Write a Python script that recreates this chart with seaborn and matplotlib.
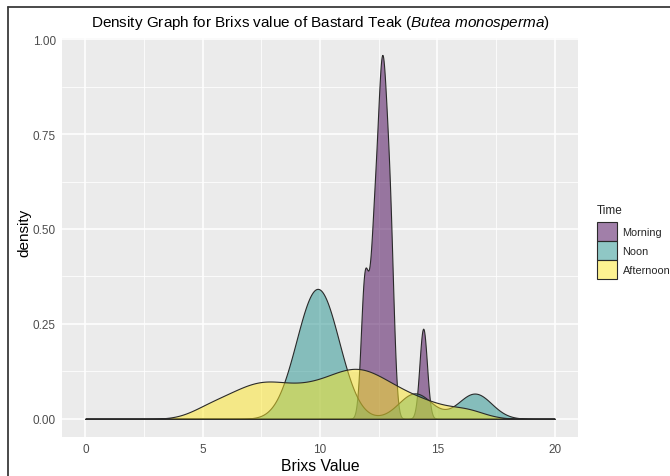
import numpy as np
import pandas as pd
import matplotlib
matplotlib.use("Agg")
import matplotlib.pyplot as plt
from matplotlib.lines import Line2D
import seaborn as sns

# Brix readings (°Bx) of Bastard Teak flowers at each sampling time
times = ["Morning", "Noon", "Afternoon"]
morning_brix = [11.9, 11.9, 11.9,
                12.2, 12.3, 12.3, 12.4, 12.5, 12.6, 12.6, 12.6,
                12.7, 12.7, 12.7, 12.8, 12.9, 13.0, 13.0, 13.0,
                14.4, 14.4]
noon_brix = [8.9, 9.2, 9.4, 9.6, 9.7, 9.8, 9.9, 10.0, 10.1, 10.2, 10.4, 10.6, 10.9,
             14.0, 14.1, 16.5, 16.7]
afternoon_brix = [5.2, 6.1, 6.7, 7.2, 7.6, 8.0, 8.5, 9.0, 9.5, 10.0, 10.4,
                  10.8, 11.15, 11.45, 11.75, 12.05, 12.4, 12.85,
                  13.3, 13.95, 14.8, 16.2]

# Gaussian kernel bandwidth (Brix units) used for each time of day
bandwidths = [0.16, 0.7, 0.8]
fill_colors = ["#440154", "#21908C", "#FDE725"]

x_ticks = [0, 5, 10, 15, 20]
y_ticks = [0.00, 0.25, 0.50, 0.75, 1.00]
y_tick_labels = ["0.00", "0.25", "0.50", "0.75", "1.00"]

df = pd.DataFrame({
    "Brix": morning_brix + noon_brix + afternoon_brix,
    "Time": (["Morning"] * len(morning_brix) + ["Noon"] * len(noon_brix)
             + ["Afternoon"] * len(afternoon_brix)),
})

sns.set_theme(style="darkgrid", rc={
    "axes.facecolor": "#EBEBEB",
    "grid.color": "white",
    "axes.edgecolor": "none",
    "mathtext.fontset": "custom",
    "mathtext.rm": "Liberation Sans",
    "mathtext.it": "Liberation Sans:italic",
})
plt.rcParams["font.family"] = ["Liberation Sans", "DejaVu Sans"]

fig = plt.figure(figsize=(6.7, 4.77), dpi=100)
ax = fig.add_axes([62 / 670, 1 - 438 / 477, 516 / 670, 399 / 477])

for name, bw, col in zip(times, bandwidths, fill_colors):
    vals = df.loc[df["Time"] == name, "Brix"].to_numpy()
    sns.kdeplot(
        x=vals, ax=ax,
        bw_method=bw / np.std(vals, ddof=1),
        fill=True, alpha=0.5, color=col,
        edgecolor="#2a2a2a", linewidth=0.8,
        clip=(0, 20), cut=100, gridsize=1200,
        label=name,
    )

ax.set_xlim(-1, 21)
ax.set_ylim(-0.048, 1.003)
ax.set_xticks(x_ticks)
ax.set_xticklabels([str(t) for t in x_ticks])
ax.set_yticks(y_ticks)
ax.set_yticklabels(y_tick_labels)
ax.set_xticks([2.5, 7.5, 12.5, 17.5], minor=True)
ax.set_yticks([0.125, 0.375, 0.625, 0.875], minor=True)
ax.grid(which="major", color="white", linewidth=1.1)
ax.grid(which="minor", color="white", linewidth=0.55)
ax.tick_params(which="major", length=2.5, width=0.6, color="#333333",
               labelsize=8.5, labelcolor="#4D4D4D", pad=2)
ax.tick_params(which="minor", length=0)
for s in ax.spines.values():
    s.set_visible(False)

ax.set_xlabel("Brixs Value", fontsize=11.3, color="black", labelpad=2)
ax.set_ylabel("density", fontsize=11, color="black")
ax.yaxis.set_label_coords(-0.06, 0.515)
ax.set_title(r"Density Graph for Brixs value of Bastard Teak $\mathit{(Butea\ monosperma)}$",
             fontsize=11, color="black", pad=9)

leg = ax.legend(title="Time", loc="center left", bbox_to_anchor=(1.037, 0.49),
                frameon=False, fontsize=7.8, title_fontsize=8.5,
                handlelength=1.85, handleheight=2.32, labelspacing=0.0,
                handletextpad=0.5, borderpad=0, borderaxespad=0,
                alignment="left")
leg._legend_box.sep = 5

# outer frame lines along the top and left edge
fig.add_artist(Line2D([8 / 670, 1.0], [1 - 8 / 477, 1 - 8 / 477],
                      transform=fig.transFigure, color="#3a3a3a", linewidth=1.3))
fig.add_artist(Line2D([8 / 670, 8 / 670], [0.0, 1 - 8 / 477],
                      transform=fig.transFigure, color="#3a3a3a", linewidth=1.3))

fig.savefig("out.png", dpi=100, facecolor="white")
